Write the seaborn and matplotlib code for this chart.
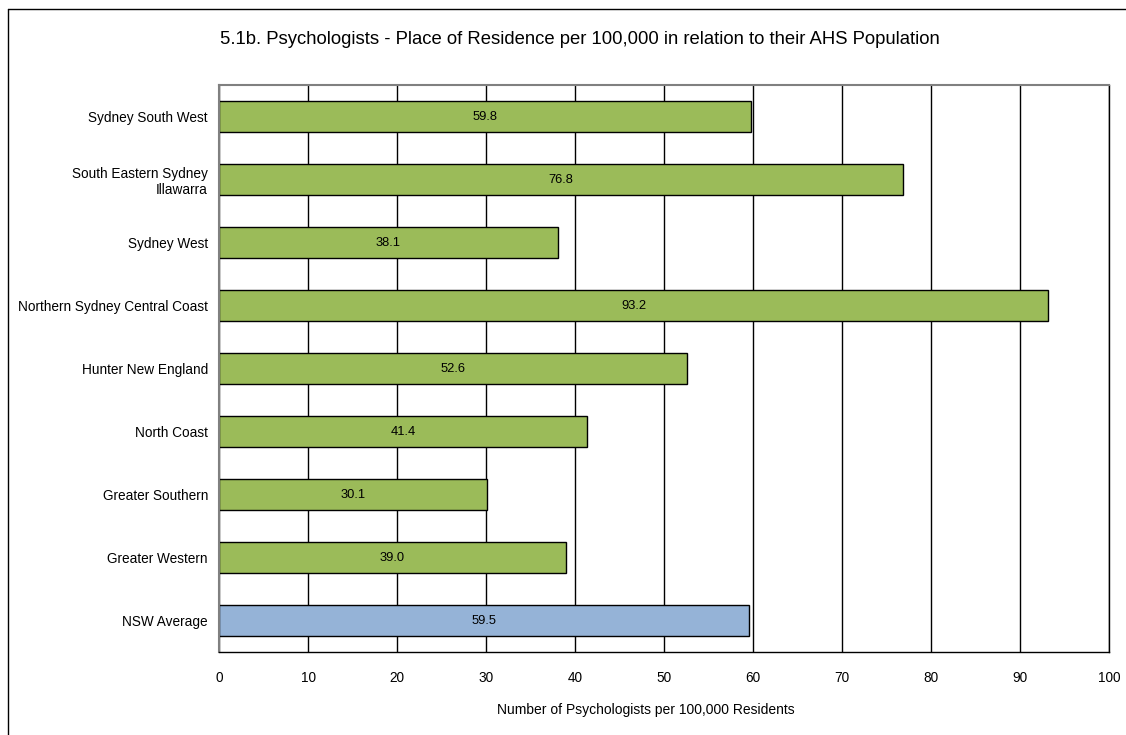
import pandas as pd
import matplotlib.pyplot as plt
import seaborn as sns

regions = ["Sydney South West", "South Eastern Sydney\nIllawarra", "Sydney West",
           "Northern Sydney Central Coast", "Hunter New England", "North Coast",
           "Greater Southern", "Greater Western", "NSW Average"]
rates = [59.8, 76.8, 38.1, 93.2, 52.6, 41.4, 30.1, 39.0, 59.5]
groups = ["AHS"] * 8 + ["NSW"]

df = pd.DataFrame({"Region": regions, "Rate": rates, "Group": groups})

sns.set_style("white")
plt.rcParams['font.family'] = ['Liberation Sans', 'DejaVu Sans']
plt.rcParams['text.color'] = "black"
plt.rcParams['xtick.color'] = "black"
plt.rcParams['ytick.color'] = "black"
plt.rcParams['axes.labelcolor'] = "black"

fig = plt.figure(figsize=(11.26, 7.35), dpi=100)
ax = fig.add_axes([0.1945, 0.1129, 0.7904, 0.7714])

sns.barplot(data=df, y="Region", x="Rate", hue="Group", dodge=False,
            palette={"AHS": "#9BBB59", "NSW": "#95B3D7"}, saturation=1,
            edgecolor="black", linewidth=1, width=0.5, legend=False, ax=ax)

for p, v in zip(ax.patches, rates):
    ax.text(p.get_x() + p.get_width() / 2, p.get_y() + p.get_height() / 2,
            f"{v:.1f}", ha="center", va="center", fontsize=9.3)

ax.set_xlim(0, 100)
ax.set_xticks(range(0, 101, 10))
ax.set_ylim(8.5, -0.5)
ax.xaxis.grid(True, color="black", linewidth=1)
ax.set_axisbelow(True)
ax.tick_params(axis="both", labelsize=9.8, length=0)
ax.tick_params(axis="x", pad=14)
ax.tick_params(axis="y", pad=8)
ax.set_ylabel("")
ax.set_xlabel("")
fig.text(646 / 1126, 1 - 710 / 735, "Number of Psychologists per 100,000 Residents",
         ha="center", va="center", fontsize=10)

for s in ["left", "top"]:
    ax.spines[s].set_color("#808080")
    ax.spines[s].set_linewidth(1.5)
for s in ["right", "bottom"]:
    ax.spines[s].set_color("black")
    ax.spines[s].set_linewidth(1)

fig.text(580 / 1126, 1 - 39 / 735, "5.1b. Psychologists - Place of Residence per 100,000 in relation to their AHS Population",
         ha="center", va="center", fontsize=13.3)

# outer chart-area border (runs off right and bottom)
fig.add_artist(plt.Line2D([8 / 1126, 8 / 1126], [0, 1 - 9 / 735], color="black", linewidth=1))
fig.add_artist(plt.Line2D([8 / 1126, 1], [1 - 9 / 735, 1 - 9 / 735], color="black", linewidth=1))

fig.savefig("out.png", dpi=100)
